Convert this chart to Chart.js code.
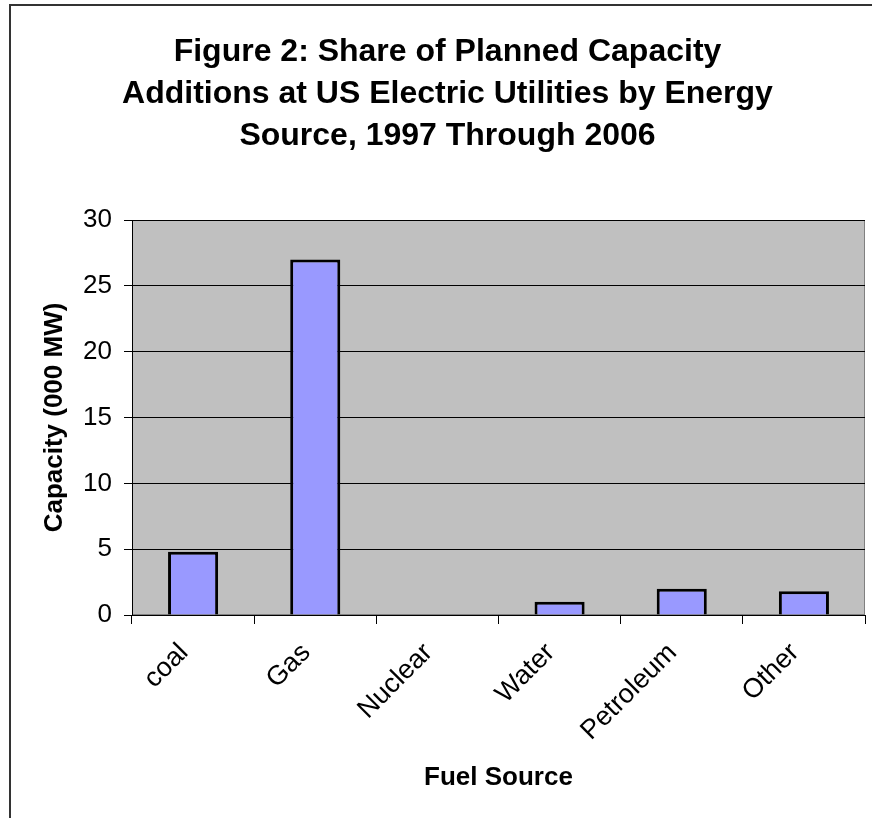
<!DOCTYPE html>
<html>
<head>
<meta charset="utf-8">
<script src="https://cdn.jsdelivr.net/npm/chart.js@4"></script>
<style>
  html, body { margin: 0; padding: 0; background: #fff; }
  #frame { position: absolute; left: 9px; top: 4px; width: 900px; height: 900px;
           border-left: 2px solid #333; border-top: 2px solid #333; }
  #wrap { position: absolute; left: 0; top: 0; width: 872px; height: 818px; }
</style>
</head>
<body>
<div id="frame"></div>
<div id="wrap"><canvas id="barChart" width="872" height="818"></canvas></div>
<script>
// data
const fuels = ["coal", "Gas", "Nuclear", "Water", "Petroleum", "Other"];
const capacity = [4.8, 27, 0, 1, 2, 1.8];
const titleLines = ["Figure 2: Share of Planned Capacity", "Additions at US Electric Utilities by Energy", "Source, 1997 Through 2006"];

// grey plot area like the excel chart
const plotBg = {
  id: 'plotBg',
  beforeDraw(chart) {
    const a = chart.chartArea, ctx = chart.ctx;
    ctx.save();
    ctx.fillStyle = '#C0C0C0';
    ctx.fillRect(a.left, a.top, a.right - a.left, a.bottom - a.top);
    ctx.strokeStyle = '#808080';
    ctx.lineWidth = 1;
    ctx.strokeRect(a.left + 0.5, a.top + 0.5, a.right - a.left - 1, a.bottom - a.top - 1);
    ctx.restore();
  }
};

var chartDiv = document.getElementById("barChart");
var myChart = new Chart(chartDiv, {
  type: 'bar',
  data: {
    labels: fuels,
    datasets: [{
      data: capacity,
      backgroundColor: '#9999FF',
      borderColor: '#000000',
      borderWidth: 3,
      barPercentage: 0.41,
      categoryPercentage: 1
    }]
  },
  options: {
    responsive: false,
    animation: false,
    layout: { padding: { left: 30, right: 7, top: 0, bottom: 0 } },
    plugins: {
      legend: { display: false },
      tooltip: { enabled: false },
      title: {
        display: true,
        text: titleLines,
        color: '#000',
        font: { family: 'Liberation Sans, Arial', size: 32, weight: 'bold', lineHeight: 1.3125 },
        padding: { top: 31, bottom: 63 }
      }
    },
    scales: {
      x: {
        afterFit: (s) => { s.height = 203; },
        grid: { drawOnChartArea: false, drawTicks: true, tickLength: 9, color: '#000', offset: true },
        border: { color: '#000', width: 1 },
        ticks: {
          color: '#000', maxRotation: 45, minRotation: 45, padding: 13, labelOffset: -9,
          font: { family: 'Liberation Sans, Arial', size: 27 }
        },
        title: {
          display: true, text: 'Fuel Source', color: '#000',
          font: { family: 'Liberation Sans, Arial', size: 26, weight: 'bold' },
          padding: { top: 0, bottom: 25 }
        }
      },
      y: {
        min: 0, max: 30,
        afterFit: (s) => { s.width = 102; },
        grid: { color: '#000', tickLength: 8, lineWidth: 1 },
        border: { color: '#000', width: 1 },
        ticks: {
          stepSize: 5, color: '#000', padding: 12,
          font: { family: 'Liberation Sans, Arial', size: 26 }
        },
        title: {
          display: true, text: 'Capacity (000 MW)', color: '#000',
          font: { family: 'Liberation Sans, Arial', size: 26, weight: 'bold' },
          padding: { top: 9, bottom: 0 }
        }
      }
    }
  },
  plugins: [plotBg]
});
</script>
</body>
</html>
